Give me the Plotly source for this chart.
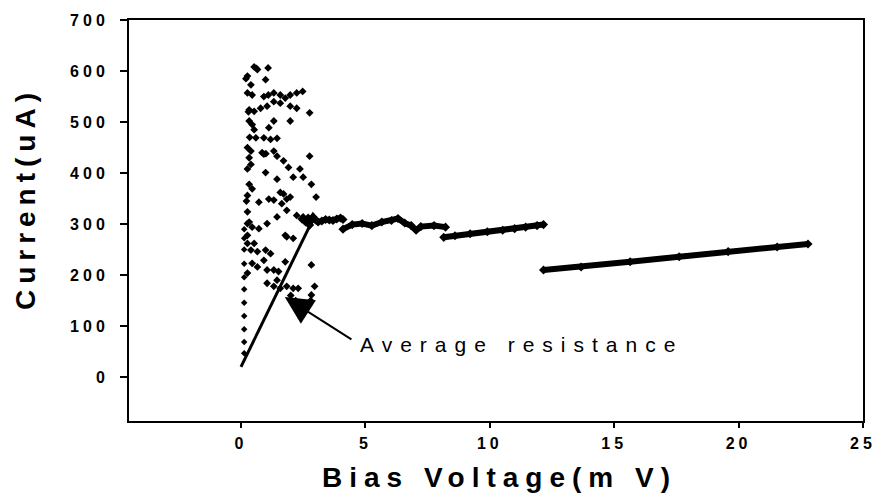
import plotly.graph_objects as go

# Scattered readings at low bias (mV, uA)
cloud_x = [0.53, 0.62, 0.66, 1.09, 0.26, 0.40, 0.99, 0.26, 0.45, 0.92, 1.10, 1.32, 1.58, 1.78,
           1.98, 2.24, 2.48, 1.58, 1.32, 0.33, 0.53, 0.79, 1.05, 1.98, 2.24, 2.76, 0.33, 0.45,
           0.53, 1.12, 1.32, 1.98, 0.60, 0.92, 1.19, 1.45, 0.26, 0.40, 0.92, 1.32, 1.45, 1.71,
           1.91, 2.37, 2.76, 0.33, 0.40, 0.26, 0.99, 1.45, 2.10, 2.50, 2.83, 0.33, 0.45, 0.26,
           0.72, 1.12, 1.32, 1.58, 1.71, 1.84, 1.98, 1.64, 1.84, 3.02, 0.26, 0.26, 0.33, 0.45,
           0.72, 1.05, 1.45, 1.78, 2.10, 2.24, 2.50, 0.26, 0.26, 0.53, 0.40, 0.66, 0.99, 1.19,
           0.92, 0.45, 0.66, 1.05, 1.32, 1.51, 1.78, 1.84, 2.83, 0.26, 1.05, 1.32, 1.58, 1.45,
           1.84, 2.10, 2.30, 2.96, 2.83, 2.00, 2.20, 2.80, 0.85, 1.00, 0.30, 0.35, 0.20, 0.22]
cloud_y = [608, 605, 603, 606, 590, 573, 583, 557, 553, 550, 553, 557, 553, 547,
           553, 557, 560, 537, 540, 524, 521, 527, 531, 531, 527, 518, 502, 495,
           485, 489, 502, 502, 469, 469, 466, 468, 450, 443, 437, 443, 433, 424,
           411, 408, 433, 430, 417, 408, 401, 388, 392, 392, 378, 378, 369, 356,
           343, 349, 347, 362, 359, 349, 353, 340, 327, 353, 324, 301, 304, 294,
           291, 301, 314, 278, 272, 317, 314, 278, 262, 262, 249, 246, 249, 242,
           229, 223, 216, 210, 210, 207, 226, 275, 220, 204, 184, 178, 174, 190,
           178, 174, 174, 178, 161, 160, 150, 150, 440, 438, 520, 470, 585, 345]

# Column of readings at the lowest bias
col_x = [0.13, 0.13, 0.13, 0.13, 0.13, 0.13, 0.13, 0.13, 0.13, 0.13, 0.13]
col_y = [47, 69, 94, 120, 146, 172, 196, 222, 250, 272, 290]

# Dense cluster where the branches begin
clu_x = [2.45, 2.60, 2.70, 2.76, 2.80, 2.90, 3.00, 3.10, 3.25, 3.40, 3.55, 3.70, 3.85, 4.00, 4.10]
clu_y = [310, 304, 312, 298, 306, 314, 308, 304, 306, 309, 308, 307, 310, 312, 309]

# Branches of the I-V curve
b1_x = [4.10, 4.47, 4.87, 5.26, 5.66, 6.05, 6.31, 6.58, 6.84, 7.04, 7.23, 7.76, 8.22]
b1_y = [290, 299, 301, 297, 304, 307, 311, 302, 297, 288, 295, 297, 294]
b2_x = [8.15, 8.60, 9.21, 9.90, 10.52, 11.00, 11.44, 11.90, 12.16]
b2_y = [274, 277, 281, 285, 288, 291, 294, 297, 299]
b3_x = [12.16, 13.67, 15.64, 17.61, 19.58, 21.55, 22.79]
b3_y = [210, 216, 226, 236, 246, 255, 261]

# Average resistance line
fit_x = [0.0, 2.76]
fit_y = [20, 296]

x_ticks = [0, 5, 10, 15, 20, 25]
y_ticks = [0, 100, 200, 300, 400, 500, 600, 700]

FONT = "Liberation Sans, Arial, sans-serif"


def spaced(text, px):
    return f'<span style="letter-spacing:{px}px">{text}</span>'


fig = go.Figure()
dot = dict(symbol="diamond", size=6, color="black")
fig.add_trace(go.Scatter(x=cloud_x, y=cloud_y, mode="markers", marker=dot))
fig.add_trace(go.Scatter(x=col_x, y=col_y, mode="markers", marker=dict(dot, size=5)))
for bx, by in [(clu_x, clu_y), (b1_x, b1_y), (b2_x, b2_y), (b3_x, b3_y)]:
    fig.add_trace(go.Scatter(x=bx, y=by, mode="lines+markers",
                             line=dict(color="black", width=6),
                             marker=dict(dot, size=7)))
fig.add_trace(go.Scatter(x=fit_x, y=fit_y, mode="lines",
                         line=dict(color="black", width=3)))

fig.add_annotation(x=1.76, y=157, ax=4.5, ay=72, xref="x", yref="y", axref="x", ayref="y",
                   text="", showarrow=True, arrowhead=2, arrowsize=2.8, arrowwidth=2,
                   arrowcolor="black")
fig.add_annotation(x=4.7, y=63, xref="x", yref="y", xanchor="left", yanchor="middle",
                   text=spaced("Average resistance", 8), showarrow=False,
                   font=dict(family=FONT, size=21, color="black"))

fig.add_annotation(x=-0.14, y=0.554, xref="paper", yref="paper", textangle=-90,
                   xanchor="center", yanchor="middle",
                   text=spaced("Current(uA)", 6), showarrow=False,
                   font=dict(family=FONT, size=28, color="black", weight="bold"))
fig.add_annotation(x=0.505, y=-0.141, xref="paper", yref="paper",
                   xanchor="center", yanchor="middle",
                   text=spaced("Bias Voltage(m V)", 7), showarrow=False,
                   font=dict(family=FONT, size=28, color="black", weight="bold"))

fig.update_layout(
    width=888, height=502,
    margin=dict(l=129, r=12, t=17, b=81),
    paper_bgcolor="white", plot_bgcolor="white",
    showlegend=False,
    font=dict(family=FONT, color="black"),
)
fig.update_xaxes(range=[-4.5, 25], tickvals=x_ticks,
                 ticktext=[spaced(str(v), 4) for v in x_ticks],
                 ticks="outside", ticklen=5, tickwidth=1.5, tickcolor="black",
                 showline=True, linewidth=2, linecolor="black", mirror=True,
                 showgrid=False, zeroline=False, ticklabelstandoff=2,
                 tickfont=dict(family=FONT, size=16, weight="bold", color="black"))
fig.update_yaxes(range=[-86, 700], tickvals=y_ticks,
                 ticktext=[spaced(str(v), 4) for v in y_ticks],
                 ticks="outside", ticklen=7, tickwidth=1.5, tickcolor="black",
                 showline=True, linewidth=2, linecolor="black", mirror=True,
                 showgrid=False, zeroline=False, ticklabelstandoff=8,
                 tickfont=dict(family=FONT, size=16, weight="bold", color="black"))

fig.write_html("out.html")
